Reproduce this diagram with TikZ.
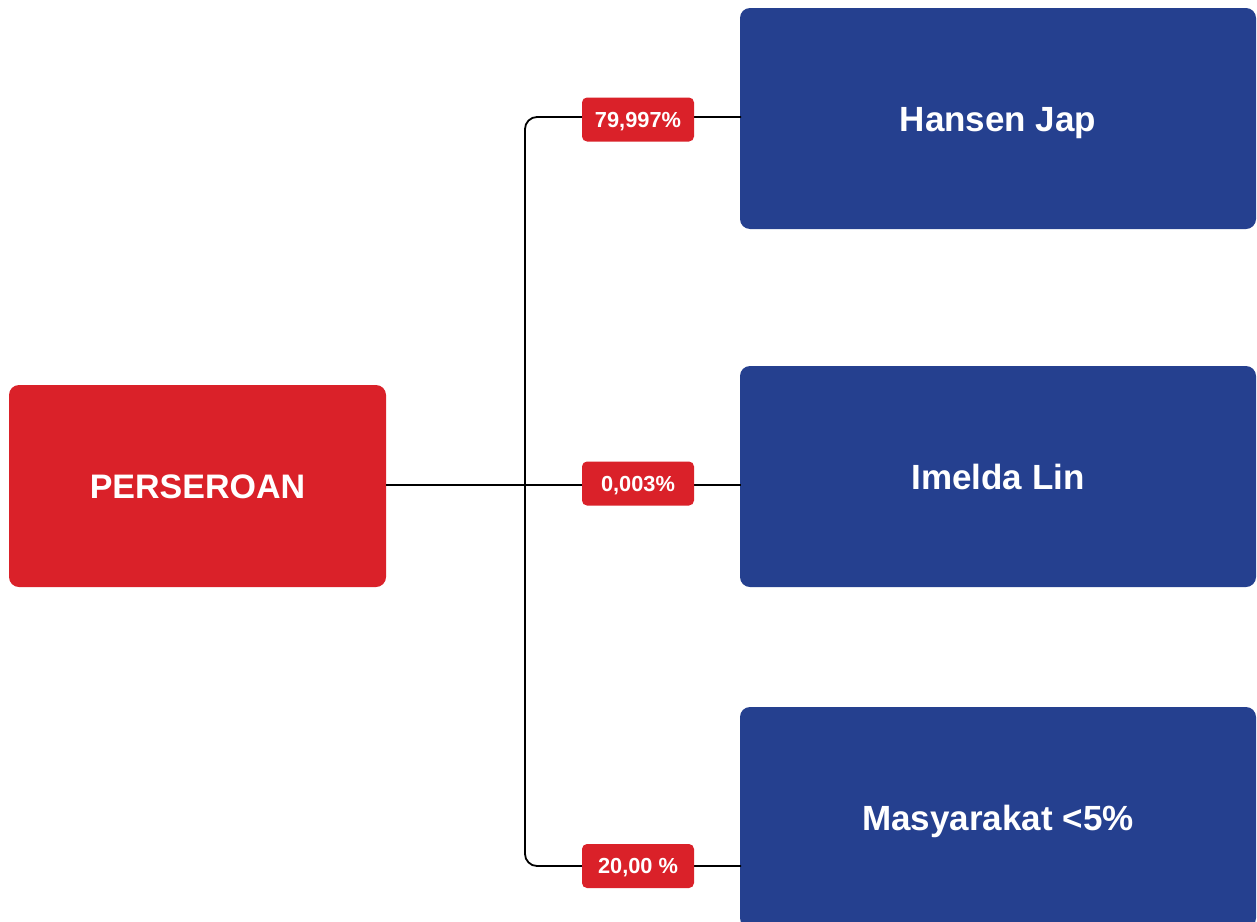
\documentclass[tikz,border=0pt]{standalone}
\usepackage{fontspec}
\setmainfont{Liberation Sans}
\definecolor{pred}{HTML}{DA2129}
\definecolor{pblue}{HTML}{25408F}
\begin{document}
\begin{tikzpicture}[x=1pt,y=-1pt,
  bigbox/.style={rectangle, rounded corners=10pt, inner sep=0pt, text=white,
     text height=25pt, text depth=0pt,
     font=\fontsize{35}{38}\selectfont\bfseries},
  redbox/.style={bigbox, fill=pred, minimum width=377pt, minimum height=202pt,
     text height=24.4pt, font=\fontsize{34}{38}\selectfont\bfseries},
  bluebox/.style={bigbox, fill=pblue, minimum width=516pt, minimum height=221pt},
  pct/.style={rectangle, rounded corners=5pt, fill=pred, text=white, inner sep=0pt,
     text height=15.6pt, text depth=0pt,
     minimum width=112pt, minimum height=44pt, font=\fontsize{21.8}{24}\selectfont\bfseries},
  conn/.style={draw=black, line width=1.8pt}]
\clip (0,0) rectangle (1257,921);
\fill[white] (0,0) rectangle (1257,921);
\node[redbox] (per) at (197.5,486) {PERSEROAN};
\node[bluebox] (h1) at (998,118.5) {Hansen Jap};
\node[bluebox] (h2) at (998,476.5) {Imelda Lin};
\node[bluebox] (h3) at (998,817.5) {Masyarakat <5\%};
\coordinate (t1) at (525,117);
\coordinate (t3) at (525,866);
\coordinate (e1) at (741,117);
\coordinate (e3) at (741,866);
\draw[conn, rounded corners=12pt] (e1) -- (t1) -- (t3) -- (e3);
\draw[conn] (per.east |- 0,485) -- (741,485);
\node[pct] (p1) at (638,119.5) {79,997\%};
\node[pct] (p2) at (638,483.5) {0,003\%};
\node[pct] (p3) at (638,866) {20,00 \%};
\end{tikzpicture}
\end{document}
